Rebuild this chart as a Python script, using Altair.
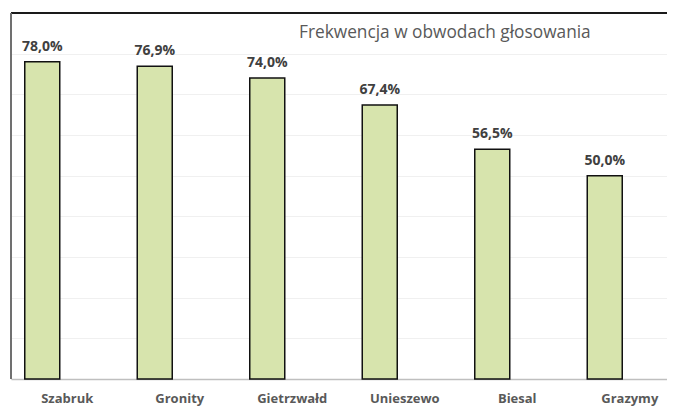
import altair as alt
import pandas as pd

categories = ["Szabruk", "Gronity", "Gietrzwałd", "Unieszewo", "Biesal", "Grazymy"]
values = [78.0, 76.9, 74.0, 67.4, 56.5, 50.0]
labels = ["78,0%", "76,9%", "74,0%", "67,4%", "56,5%", "50,0%"]
title_text = "Frekwencja w obwodach głosowania"

df = pd.DataFrame({"cat": categories, "val": values, "lab": labels})

FONT = "Open Sans"
xscale = alt.Scale(domain=categories, range=[0, 675], paddingInner=0, paddingOuter=0)
yscale = alt.Scale(domain=[0, 90], nice=False)

base = alt.Chart(df)

bars = base.mark_bar(width=35, xOffset=-25, fill="#d7e4ad", stroke="#111111", strokeWidth=1.5).encode(
    x=alt.X("cat:N", sort=categories, scale=xscale,
            axis=alt.Axis(title=None, labelAngle=0, ticks=False, domainColor="#bfbfbf", domainWidth=1.5,
                          labelFont=FONT, labelFontWeight="bold", labelFontSize=13, labelColor="#595959",
                          labelPadding=13)),
    y=alt.Y("val:Q", scale=yscale,
            axis=alt.Axis(title=None, labels=False, ticks=False, domain=False, values=list(range(0, 90, 10)),
                          gridColor="#f0f0f0", gridWidth=1)),
)

text = base.mark_text(xOffset=-25, dy=-8, baseline="bottom", font=FONT, fontWeight="bold",
                      fontSize=14, color="#404040").encode(
    x=alt.X("cat:N", sort=categories, scale=xscale),
    y=alt.Y("val:Q", scale=yscale),
    text="lab:N",
)

top_rule = alt.Chart(pd.DataFrame({"v": [90]})).mark_rule(color="#1a1a1a", strokeWidth=2).encode(
    y=alt.Y("v:Q", scale=yscale), x=alt.value(0), x2=alt.value(656))
left_rule = alt.Chart(pd.DataFrame({"v": [0]})).mark_rule(color="#707070", strokeWidth=2).encode(
    x=alt.value(0), y=alt.value(0), y2=alt.value(366))

title = alt.Chart(pd.DataFrame({"t": [title_text]})).mark_text(
    align="left", baseline="alphabetic", font=FONT, fontSize=17.3, color="#595959").encode(
    x=alt.value(288), y=alt.value(25), text="t:N")

chart = alt.layer(bars, text, top_rule, left_rule, title).properties(
    width=656, height=366,
    autosize=alt.AutoSizeParams(type="none"),
    padding={"left": 3, "top": 5, "right": 0, "bottom": 30},
).configure_view(stroke=None).configure(background="white")

chart.save("out.html", embed_options={"renderer": "svg", "actions": False})
